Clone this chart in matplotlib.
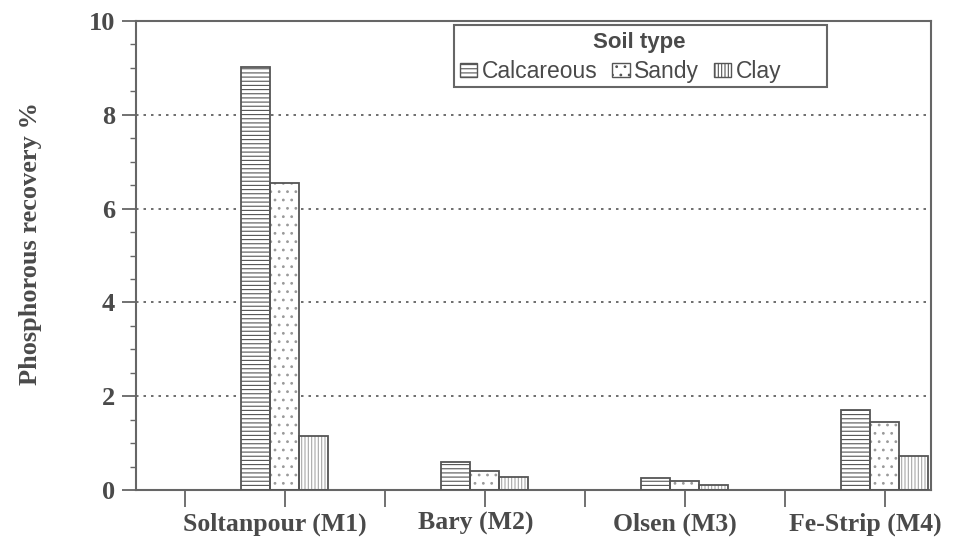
import numpy as np
import matplotlib.pyplot as plt
import matplotlib.transforms as mtransforms
from matplotlib.patches import Patch, Rectangle

# data
methods = ['Soltanpour (M1)', 'Bary (M2)', 'Olsen (M3)', 'Fe-Strip (M4)']
soils = ['Calcareous', 'Sandy', 'Clay']
calcareous = [9.02, 0.60, 0.25, 1.71]
sandy = [6.55, 0.40, 0.19, 1.45]
clay = [1.15, 0.28, 0.10, 0.72]

values = [calcareous, sandy, clay]
hatches = ['----', '..', '|||||']
hatch_cols = ['#555555', '#9a9a9a', '#a8a8a8']
edge = '#555555'
txt = '#4a4a4a'

plt.rcParams['hatch.linewidth'] = 0.8

fig = plt.figure(figsize=(9.57, 5.37), dpi=100)
ax = fig.add_axes([0.1421, 0.0875, 0.8307, 0.8734])

# groups sit on every second tick, like the original
pos = np.array([1, 3, 5, 7])
w = 0.29
for i, vals in enumerate(values):
    x = pos + (i - 1) * w
    ax.bar(x, vals, w, color='white', edgecolor=hatch_cols[i], hatch=hatches[i],
           linewidth=0, zorder=2)
    ax.bar(x, vals, w, fill=False, edgecolor=edge, linewidth=1.3, zorder=3)

ax.set_xlim(-0.49, 7.46)
ax.set_ylim(0, 10)
ax.set_yticks([0, 2, 4, 6, 8, 10])
ax.set_yticks(np.arange(0, 10.01, 0.5), minor=True)
ax.set_xticks(range(8))
labels = []
for k in range(8):
    labels.append(methods[k // 2] if k % 2 == 1 else '')
ax.set_xticklabels(labels)

for y in [2, 4, 6, 8]:
    ax.axhline(y, color='#555555', linestyle=(0, (1.5, 3)), linewidth=1.2, zorder=1)

for s in ax.spines.values():
    s.set_color('#666666')
    s.set_linewidth(1.5)

ax.tick_params(axis='y', which='major', length=10, width=1.3, color='#666666',
               labelsize=19, labelcolor=txt, pad=5)
ax.tick_params(axis='y', which='minor', length=4, width=1.0, color='#666666')
ax.tick_params(axis='x', which='major', length=12, width=1.3, color='#666666',
               labelsize=18.5, labelcolor=txt, pad=4)
for lab in ax.get_xticklabels() + ax.get_yticklabels():
    lab.set_fontfamily('Liberation Serif')
    lab.set_fontweight('bold')

# category labels sit a little left of their ticks in the original
shifts = [0, -10, 0, -9, 0, -10, 0, -20]
for lab, dx in zip(ax.get_xticklabels(), shifts):
    lab.set_transform(lab.get_transform() +
                      mtransforms.ScaledTranslation(dx / 100, 0, fig.dpi_scale_trans))

ax.set_ylabel('Phosphorous recovery %', fontsize=19, fontfamily='Liberation Serif',
              fontweight='bold', color=txt)
ax.yaxis.set_label_coords(-0.118, 0.525)

# legend: box, title and one row of entries
ax.add_patch(Rectangle((0.400, 0.859), 0.469, 0.132, transform=ax.transAxes,
                       facecolor='white', edgecolor='#666666', linewidth=1.5, zorder=5))
ax.text(0.633, 0.942, 'Soil type', transform=ax.transAxes, ha='center', va='baseline',
        fontsize=16, fontweight='bold', fontfamily='Liberation Sans', color=txt, zorder=6)
handles = [Patch(facecolor='white', edgecolor=edge, hatch=h, linewidth=1.0) for h in hatches]
leg = ax.legend(handles, soils, ncol=3, loc='center left', bbox_to_anchor=(0.4075, 0.893),
                frameon=False, prop={'family': 'Liberation Sans', 'size': 16.5},
                handlelength=0.75, handleheight=0.57, handletextpad=0.2,
                columnspacing=0.65, borderpad=0.0, borderaxespad=0.0)
for t in leg.get_texts():
    t.set_color(txt)
leg.set_zorder(7)

plt.savefig('out.png', dpi=100)
